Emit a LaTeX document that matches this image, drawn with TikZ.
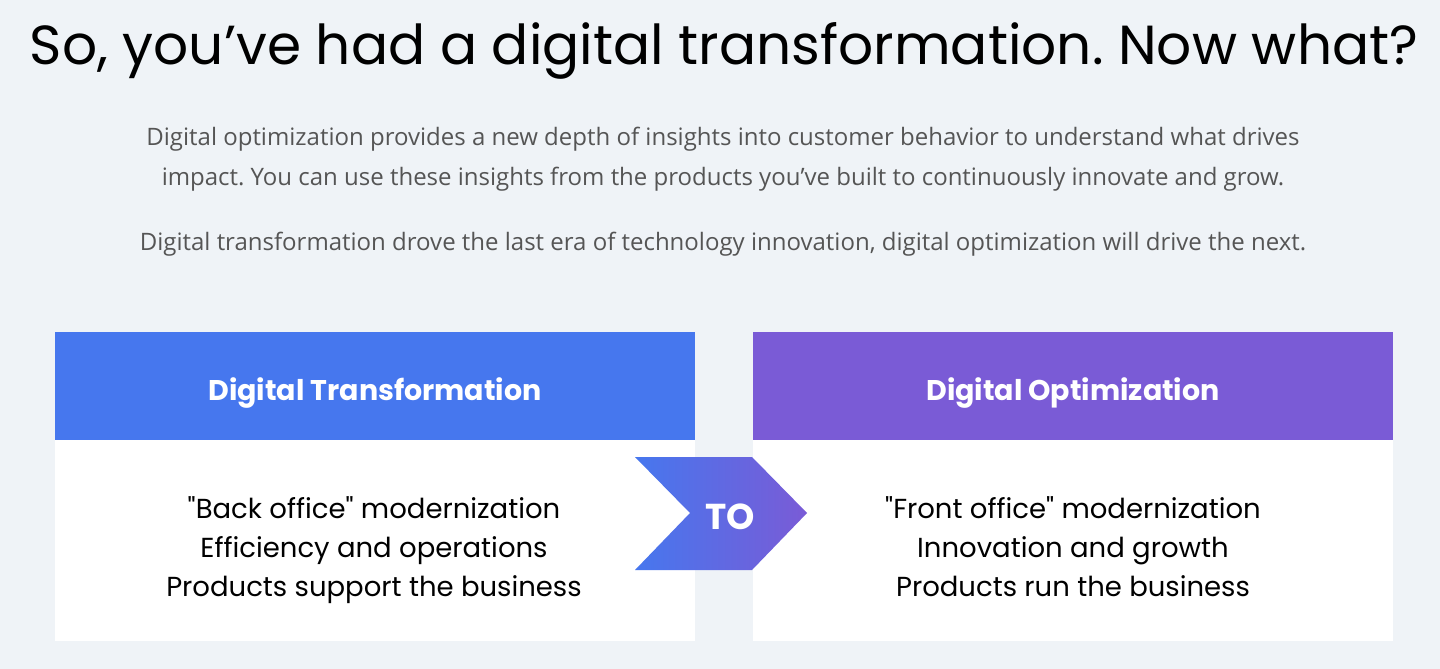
\documentclass[tikz,border=0pt]{standalone}
\usepackage{fontspec}
\setmainfont{Open Sans}
\newfontfamily\headfont{Poppins}
\usepackage{xcolor}
\definecolor{pagebg}{HTML}{EFF3F7}
\definecolor{dtblue}{HTML}{4677EE}
\definecolor{dopurple}{HTML}{7A5BD6}
\definecolor{paragray}{HTML}{555555}
\frenchspacing

\begin{document}
\begin{tikzpicture}[x=1pt,y=-1pt,
  title/.style={anchor=base,inner sep=0pt,font=\headfont\fontsize{55}{60}\selectfont},
  para/.style={anchor=base,inner sep=0pt,text=paragray,font=\fontsize{24}{28}\selectfont},
  hdr/.style={anchor=north west,inner sep=0pt,minimum width=640pt,minimum height=108pt},
  hdrtxt/.style={anchor=base,inner sep=0pt,text=white,font=\headfont\fontsize{28.5}{34}\selectfont\bfseries},
  card/.style={anchor=north west,inner sep=0pt,minimum width=640pt,minimum height=201pt,fill=white},
  cardtxt/.style={anchor=base,inner sep=0pt,font=\headfont\fontsize{27.5}{32}\selectfont}]
  \fill[pagebg] (0,0) rectangle (1440,669);
  \node[title] (title) at (724,65) {So, you’ve had a digital transformation. Now what?};
  % intro text
  \node[para] (p1) at (723,145) {Digital optimization provides a new depth of insights into customer behavior to understand what drives};
  \node[para] (p2) at (723,185) {impact. You can use these insights from the products you’ve built to continuously innovate and grow.};
  \node[para] (p3) at (723,250) {Digital transformation drove the last era of technology innovation, digital optimization will drive the next.};
  % left column
  \node[hdr,fill=dtblue] (dthead) at (55,332) {};
  \node[hdrtxt] (dtname) at (375,400) {Digital Transformation};
  \node[card] (dtcard) at (55,440) {};
  \node[cardtxt] (dt1) at (374,518) {"Back office" modernization};
  \node[cardtxt] (dt2) at (374,557) {Efficiency and operations};
  \node[cardtxt] (dt3) at (374,596) {Products support the business};
  % right column
  \node[hdr,fill=dopurple] (dohead) at (753,332) {};
  \node[hdrtxt] (doname) at (1073,400) {Digital Optimization};
  \node[card] (docard) at (753,440) {};
  \node[cardtxt] (do1) at (1073,518) {"Front office" modernization};
  \node[cardtxt] (do2) at (1073,557) {Innovation and growth};
  \node[cardtxt] (do3) at (1073,596) {Products run the business};
  % chevron
  \shade[left color=dtblue,right color=dopurple]
    (635,457) -- (752,457) -- (807,513) -- (752,570) -- (635,570) -- (690,513) -- cycle;
  \node[inner sep=0pt,text=white,font=\headfont\fontsize{36}{40}\selectfont\bfseries] (to) at (730,517) {TO};
\end{tikzpicture}
\end{document}
